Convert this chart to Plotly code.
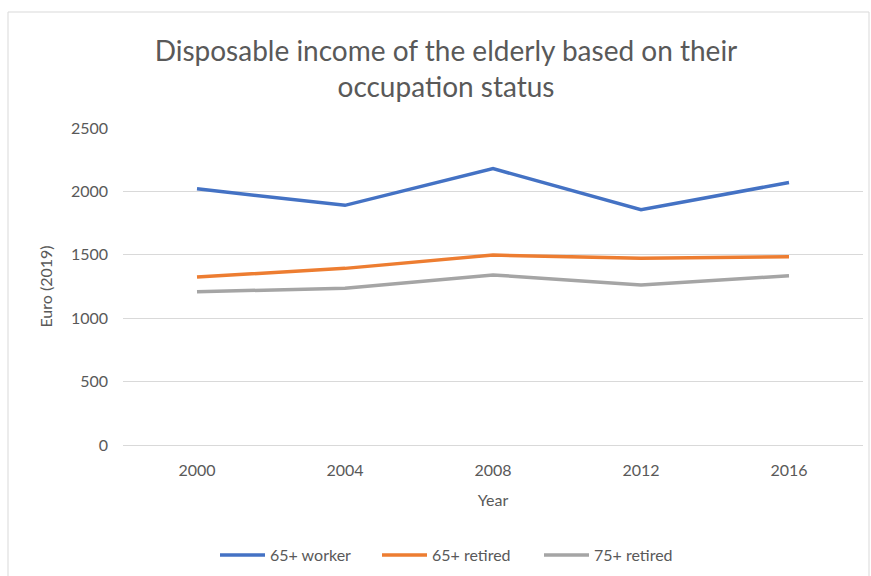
import plotly.graph_objects as go

years = ["2000", "2004", "2008", "2012", "2016"]
worker_65 = [2020, 1890, 2180, 1855, 2070]
retired_65 = [1325, 1393, 1498, 1472, 1485]
retired_75 = [1209, 1236, 1341, 1262, 1335]

series = [
    ("65+ worker", worker_65, "#4472C4"),
    ("65+ retired", retired_65, "#ED7D31"),
    ("75+ retired", retired_75, "#A5A5A5"),
]

W, H = 871, 576
L, R, T, B = 123, 8, 128, 131
pw, ph = W - L - R, H - T - B

def px_x(x):
    return (x - L) / pw

def px_y(y):
    return (H - B - y) / ph

text_color = "#595959"
font_family = "Lato, 'Open Sans', sans-serif"

fig = go.Figure()
for name, vals, color in series:
    fig.add_trace(go.Scatter(
        x=years, y=vals, name=name, mode="lines",
        line=dict(color=color, width=3.5),
    ))

fig.update_layout(
    width=W, height=H,
    margin=dict(l=L, r=R, t=T, b=B, autoexpand=False),
    paper_bgcolor="white", plot_bgcolor="white",
    font=dict(family=font_family, color=text_color, size=16),
    title=dict(
        text="Disposable income of the elderly based on their<br>occupation status",
        x=446 / W, xref="container", xanchor="center",
        y=1 - 61 / H, yref="container", yanchor="top",
        font=dict(size=28, color=text_color, family=font_family),
    ),
    xaxis=dict(
        type="category", range=[-0.5, 4.5], automargin=False,
        showgrid=False, showline=False, zeroline=False,
        ticks="", ticklabelstandoff=14,
        tickfont=dict(size=16, color=text_color),
        title=dict(text="Year", standoff=16, font=dict(size=16, color=text_color)),
    ),
    yaxis=dict(
        range=[0, 2500], dtick=500, automargin=False,
        showgrid=True, gridcolor="#D9D9D9", gridwidth=1,
        zeroline=True, zerolinecolor="#D9D9D9", zerolinewidth=1,
        showline=False, ticks="", ticklabelstandoff=14,
        tickfont=dict(size=16, color=text_color),
        title=dict(text="Euro (2019)", standoff=14, font=dict(size=16, color=text_color)),
    ),
    legend=dict(
        orientation="h",
        x=px_x(215), xanchor="left",
        y=px_y(555), yanchor="middle",
        entrywidth=102, entrywidthmode="pixels",
        itemwidth=45,
        font=dict(size=16, color=text_color),
        bgcolor="rgba(0,0,0,0)",
    ),
    shapes=[dict(
        type="rect", xref="paper", yref="paper",
        x0=px_x(8), x1=px_x(869), y0=px_y(585), y1=px_y(12),
        line=dict(color="#D9D9D9", width=1), fillcolor="rgba(0,0,0,0)",
        layer="below",
    )],
)

fig.write_html("out.html")
